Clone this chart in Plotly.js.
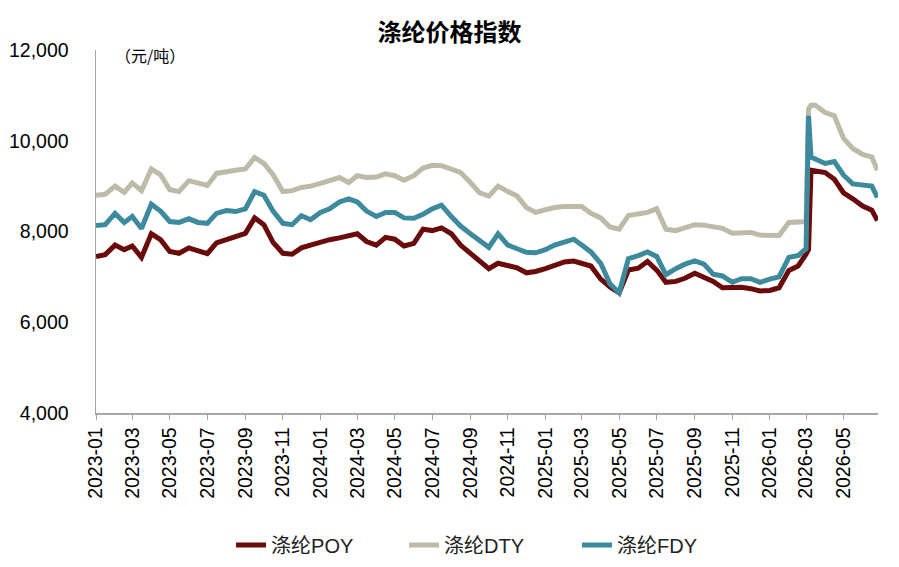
<!DOCTYPE html>
<html>
<head>
<meta charset="utf-8">
<script src="https://cdn.plot.ly/plotly-3.0.1.min.js"></script>
<style>
  html, body { margin: 0; padding: 0; background: #fff; }
  #chart { width: 899px; height: 567px; }
</style>
</head>
<body>
<div id="chart"></div>
<script>
// dates (roughly twice a month, finer around the March 2026 jump)
const dates = [
  '2023-01-01','2023-01-16','2023-02-01','2023-02-16','2023-03-01','2023-03-16','2023-04-01','2023-04-16','2023-05-01','2023-05-16',
  '2023-06-01','2023-06-16','2023-07-01','2023-07-16','2023-08-01','2023-08-16','2023-09-01','2023-09-16','2023-10-01','2023-10-16',
  '2023-11-01','2023-11-16','2023-12-01','2023-12-16','2024-01-01','2024-01-16','2024-02-01','2024-02-16','2024-03-01','2024-03-16',
  '2024-04-01','2024-04-16','2024-05-01','2024-05-16','2024-06-01','2024-06-16','2024-07-01','2024-07-16','2024-08-01','2024-08-16',
  '2024-09-01','2024-09-16','2024-10-01','2024-10-16','2024-11-01','2024-11-16','2024-12-01','2024-12-16','2025-01-01','2025-01-16',
  '2025-02-01','2025-02-16','2025-03-01','2025-03-16','2025-04-01','2025-04-16','2025-05-01','2025-05-16','2025-06-01','2025-06-16',
  '2025-07-01','2025-07-16','2025-08-01','2025-08-16','2025-09-01','2025-09-16','2025-10-01','2025-10-16','2025-11-01','2025-11-16',
  '2025-12-01','2025-12-16','2026-01-01','2026-01-16','2026-02-01','2026-02-16',
  '2026-03-01','2026-03-05','2026-03-09','2026-03-16','2026-04-01','2026-04-16','2026-05-01','2026-05-16','2026-06-01','2026-06-16','2026-06-25'
];

const poy = [
  7450, 7490, 7700, 7600, 7680, 7430, 7950, 7820, 7560, 7520,
  7640, 7580, 7510, 7750, 7820, 7880, 7960, 8300, 8150, 7760,
  7520, 7500, 7640, 7700, 7770, 7820, 7860, 7900, 7950, 7780,
  7700, 7870, 7830, 7680, 7740, 8050, 8020, 8080, 7950, 7700,
  7520, 7380, 7180, 7300, 7260, 7200, 7090, 7120, 7180, 7260,
  7330, 7350, 7310, 7240, 6950, 6780, 6650, 7150, 7190, 7340,
  7150, 6880, 6900, 6970, 7080, 6980, 6900, 6760, 6760, 6770,
  6740, 6690, 6700, 6760, 7140, 7240,
  7500, 7600, 9350, 9330, 9300, 9150, 8850, 8720, 8560, 8470, 8240
];

const dty = [
  8800, 8820, 9000, 8860, 9070, 8900, 9380, 9250, 8920, 8880,
  9120, 9080, 9015, 9280, 9330, 9350, 9380, 9630, 9500, 9250,
  8880, 8900, 8970, 9000, 9060, 9120, 9190, 9080, 9230, 9190,
  9200, 9270, 9230, 9130, 9230, 9400, 9460, 9450, 9380, 9300,
  9080, 8850, 8780, 9000, 8880, 8780, 8530, 8420, 8480, 8530,
  8550, 8550, 8550, 8400, 8300, 8100, 8050, 8350, 8400, 8420,
  8500, 8050, 8020, 8090, 8150, 8140, 8100, 8070, 7960, 7960,
  7980, 7920, 7910, 7910, 8200, 8200,
  8220, 10700, 10780, 10780, 10620, 10550, 10050, 9830, 9700, 9640, 9350
];

const fdy = [
  8130, 8150, 8400, 8200, 8330, 8065, 8600, 8450, 8220, 8200,
  8280, 8200, 8180, 8400, 8460, 8440, 8500, 8880, 8800, 8450,
  8180, 8150, 8350, 8260, 8420, 8500, 8650, 8720, 8650, 8450,
  8330, 8420, 8420, 8300, 8290, 8380, 8500, 8580, 8330, 8120,
  7950, 7800, 7650, 7950, 7700, 7620, 7540, 7530, 7600, 7700,
  7760, 7830, 7700, 7550, 7300, 6850, 6650, 7400, 7470, 7550,
  7450, 7050, 7180, 7280, 7350, 7280, 7060, 7020, 6880, 6960,
  6960, 6880, 6950, 7000, 7430, 7470,
  7620, 10550, 9640, 9600, 9500, 9540, 9240, 9050, 9030, 9000, 8750
];

const tickDates = ['2023-01-01','2023-03-01','2023-05-01','2023-07-01','2023-09-01','2023-11-01',
  '2024-01-01','2024-03-01','2024-05-01','2024-07-01','2024-09-01','2024-11-01',
  '2025-01-01','2025-03-01','2025-05-01','2025-07-01','2025-09-01','2025-11-01',
  '2026-01-01','2026-03-01','2026-05-01'];
const tickLabels = tickDates.map(d => d.slice(0, 7));

const fontFam = 'Liberation Sans, Arial, Noto Sans CJK SC, sans-serif';

function serie(nome, y, cor) {
  return { x: dates, y: y, name: nome, type: 'scatter', mode: 'lines',
           line: { color: cor, width: 5 } };
}

const traces = [
  serie('涤纶POY', poy, '#6b0a0a'),
  serie('涤纶DTY', dty, '#bdbba8'),
  serie('涤纶FDY', fdy, '#3d8a9c')
];

const layout = {
  width: 899, height: 567,
  margin: { l: 96, r: 21, t: 50, b: 154 },
  paper_bgcolor: '#fff', plot_bgcolor: '#fff',
  font: { family: fontFam, color: '#000', size: 19 },
  title: { text: '<b>涤纶价格指数</b>', x: 0.5, xanchor: 'center', y: 0.942, yanchor: 'middle',
           font: { family: 'Noto Sans CJK SC, sans-serif', size: 24, color: '#000' } },
  showlegend: true,
  legend: { orientation: 'h', xref: 'container', yref: 'container',
            x: 0.257, xanchor: 'left', y: 0.039, yanchor: 'middle',
            entrywidth: 128, entrywidthmode: 'pixels',
            font: { family: 'Liberation Sans, Noto Sans CJK SC, sans-serif', size: 20, color: '#222' } },
  xaxis: {
    type: 'date', range: ['2023-01-01', '2026-06-26'],
    tickmode: 'array', tickvals: tickDates, ticktext: tickLabels, tickangle: -90,
    ticks: 'outside', ticklen: 5, tickcolor: '#a6a6a6',
    showline: true, linecolor: '#a6a6a6', linewidth: 1.5,
    showgrid: false, zeroline: false,
    tickfont: { size: 19.5, family: fontFam }
  },
  yaxis: {
    range: [4000, 12000], tickvals: [4000, 6000, 8000, 10000, 12000],
    tickformat: ',d', ticks: '', showline: true, linecolor: '#a6a6a6', linewidth: 1.5,
    showgrid: false, zeroline: false, ticklabelstandoff: 22,
    tickfont: { size: 19.5, family: fontFam }
  },
  annotations: [{
    text: '（元/吨）', xref: 'paper', yref: 'paper', x: 0.022, y: 0.986, xanchor: 'left', yanchor: 'middle',
    showarrow: false, font: { family: 'Noto Sans CJK SC, sans-serif', size: 16, color: '#000' }
  }]
};

Plotly.newPlot('chart', traces, layout, { displayModeBar: false, staticPlot: true });
</script>
</body>
</html>
